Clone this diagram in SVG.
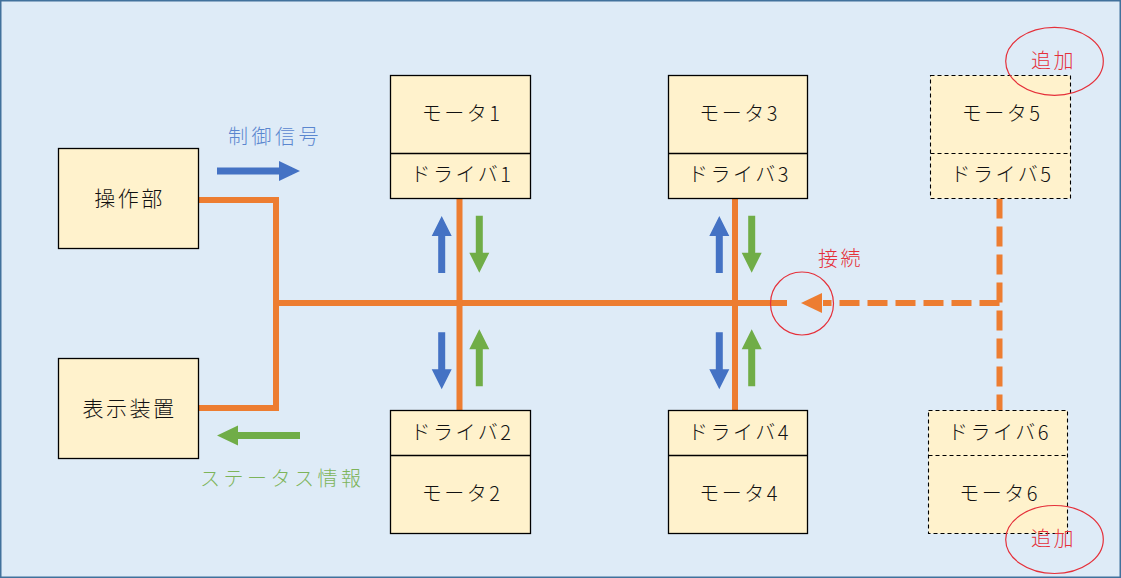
<svg xmlns="http://www.w3.org/2000/svg" width="1121" height="578" viewBox="0 0 1121 578">
<style>
.box{fill:#FFF2CC;stroke:#000;stroke-width:1.3}
.dbox{fill:#FFF2CC;stroke:#000;stroke-width:1.1;stroke-dasharray:4 3}
.t{font-family:"Noto Sans CJK JP","Noto Sans",sans-serif;font-size:20px;font-weight:300;fill:#111;text-anchor:middle;letter-spacing:2.5px}
.bus{stroke:#ED7D31;stroke-width:6;fill:none}
.dbus{stroke:#ED7D31;stroke-width:6;fill:none;stroke-dasharray:20 8}
.blue{fill:#4472C4}
.green{fill:#70AD47}
.red{fill:none;stroke:#E5303A;stroke-width:1.2}
.rt{font-family:"Noto Sans CJK JP",sans-serif;font-size:20px;font-weight:300;fill:#E5303A;letter-spacing:2.5px}
.lb{font-family:"Noto Sans CJK JP",sans-serif;font-size:20px;font-weight:300;letter-spacing:3.5px}
</style>
<defs>
<path id="up" d="M0,0 L10,20 L3.5,20 L3.5,57 L-3.5,57 L-3.5,20 L-10,20 Z"/>
<path id="right" d="M0,0 L-21,-10 L-21,-3.5 L-83,-3.5 L-83,3.5 L-21,3.5 L-21,10 Z"/>
</defs>
<rect x="0.75" y="0.75" width="1119.5" height="576.5" fill="#DEEBF7" stroke="#41719C" stroke-width="1.5"/>

<g id="connectors">
<polyline class="bus" points="198.5,200 276,200 276,408 198.5,408"/>
<line class="bus" x1="279" y1="303" x2="787" y2="303"/>
<line class="bus" x1="459.5" y1="198" x2="459.5" y2="410.5"/>
<line class="bus" x1="735" y1="198" x2="735" y2="410.5"/>
<line class="dbus" x1="999.5" y1="198.5" x2="999.5" y2="410.5"/>
<line class="dbus" x1="999.5" y1="303" x2="823" y2="303"/>
<path d="M801,303 L822,293 L822,313 Z" fill="#ED7D31"/>
</g>

<g id="signal-arrows">
<use href="#right" class="blue" transform="translate(300,171)"/>
<use href="#right" class="green" transform="translate(217,435.5) rotate(180)"/>
<use href="#up" class="blue" transform="translate(441.7,216)"/>
<use href="#up" class="green" transform="translate(479.3,272.7) rotate(180)"/>
<use href="#up" class="blue" transform="translate(441.7,389.3) rotate(180)"/>
<use href="#up" class="green" transform="translate(479.3,329.3)"/>
<use href="#up" class="blue" transform="translate(719.3,216)"/>
<use href="#up" class="green" transform="translate(751.7,272.7) rotate(180)"/>
<use href="#up" class="blue" transform="translate(719.3,389.3) rotate(180)"/>
<use href="#up" class="green" transform="translate(751.7,329.3)"/>
</g>

<g id="labels">
<text class="lb" x="228" y="144" fill="#5A86CF">制御信号</text>
<text class="lb" x="200" y="486" fill="#7DB45A">ステータス情報</text>
</g>

<g id="node-sousa">
<rect class="box" x="58.5" y="148.5" width="140" height="100"/>
<text class="t" x="129.5" y="206" style="font-size:21px">操作部</text>
</g>
<g id="node-hyouji">
<rect class="box" x="58.5" y="358.5" width="140" height="100"/>
<text class="t" x="129.5" y="416" style="font-size:21px">表示装置</text>
</g>

<g id="node-motor1">
<rect class="box" x="390.5" y="75.5" width="140" height="123"/>
<line x1="390.5" y1="153.5" x2="530.5" y2="153.5" stroke="#000" stroke-width="1.3"/>
<text class="t" x="462" y="121">モータ1</text>
<text class="t" x="462" y="182">ドライバ1</text>
</g>
<g id="node-motor3">
<rect class="box" x="668.5" y="75.5" width="139" height="123"/>
<line x1="668.5" y1="153.5" x2="807.5" y2="153.5" stroke="#000" stroke-width="1.3"/>
<text class="t" x="739.5" y="121">モータ3</text>
<text class="t" x="739.5" y="182">ドライバ3</text>
</g>
<g id="node-motor2">
<rect class="box" x="390.5" y="410.5" width="140" height="123"/>
<line x1="390.5" y1="455.5" x2="530.5" y2="455.5" stroke="#000" stroke-width="1.3"/>
<text class="t" x="462" y="440">ドライバ2</text>
<text class="t" x="462" y="501">モータ2</text>
</g>
<g id="node-motor4">
<rect class="box" x="668.5" y="410.5" width="139" height="123"/>
<line x1="668.5" y1="455.5" x2="807.5" y2="455.5" stroke="#000" stroke-width="1.3"/>
<text class="t" x="739.5" y="440">ドライバ4</text>
<text class="t" x="739.5" y="501">モータ4</text>
</g>
<g id="node-motor5">
<rect class="dbox" x="930.5" y="75.5" width="140" height="123"/>
<line x1="930.5" y1="153.5" x2="1070.5" y2="153.5" stroke="#000" stroke-width="1.1" stroke-dasharray="4 3"/>
<text class="t" x="1002" y="121">モータ5</text>
<text class="t" x="1002" y="182">ドライバ5</text>
</g>
<g id="node-motor6">
<rect class="dbox" x="928.5" y="410.5" width="139" height="123"/>
<line x1="928.5" y1="455.5" x2="1067.5" y2="455.5" stroke="#000" stroke-width="1.1" stroke-dasharray="4 3"/>
<text class="t" x="999.5" y="440">ドライバ6</text>
<text class="t" x="999.5" y="501">モータ6</text>
</g>

<g id="annotations">
<circle class="red" cx="802" cy="303.5" r="31.5"/>
<text class="rt" x="818" y="266">接続</text>
<ellipse class="red" cx="1054.5" cy="61.3" rx="48.8" ry="34"/>
<text class="rt" x="1031" y="68">追加</text>
<ellipse class="red" cx="1054.5" cy="539.5" rx="48.8" ry="34"/>
<text class="rt" x="1031" y="546">追加</text>
</g>
</svg>
